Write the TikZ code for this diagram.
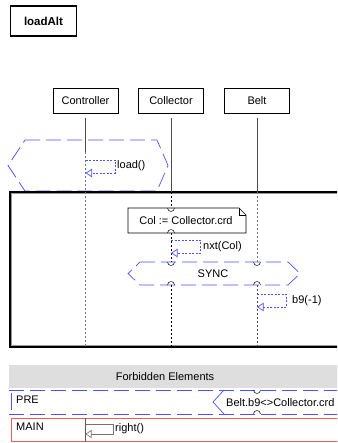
\documentclass[tikz,border=0pt]{standalone}
\usepackage{fontspec}
\setmainfont{Liberation Sans}
\usetikzlibrary{arrows.meta}
\definecolor{condblue}{RGB}{80,80,255}
\definecolor{mainred}{RGB}{245,90,90}
\definecolor{bandgray}{RGB}{222,222,222}
\begin{document}
\begin{tikzpicture}[x=1pt,y=-1pt,
  font=\fontsize{11}{13}\selectfont,
  headbox/.style={draw, line width=0.6pt, minimum width=65pt, minimum height=25pt, inner sep=0pt},
  condline/.style={draw=condblue, line width=0.7pt, dash pattern=on 15pt off 6pt},
  selfmsg/.style={draw=condblue, line width=0.7pt, dash pattern=on 2pt off 1.5pt,
    -{Triangle[open, length=6.5pt, width=8.5pt]}},
  solidlife/.style={draw=black!70, line width=0.8pt},
  dotlife/.style={line width=0.8pt, dash pattern=on 2pt off 2pt},
  lbl/.style={anchor=west, inner sep=0pt},
  gapcup/.pic={\draw[black, line width=0.5pt] (-3.5,0) .. controls (-3.5,4.6) and (3.5,4.6) .. (3.5,0);},
  gapcap/.pic={\draw[black, line width=0.5pt] (-3.5,0) .. controls (-3.5,-4.6) and (3.5,-4.6) .. (3.5,0);}
]
\useasboundingbox (0,0) rectangle (337,443);
\clip (0,0) rectangle (337,443);

% chart title
\node[draw, line width=1.6pt, minimum width=66pt, minimum height=30pt, inner sep=0pt,
      font=\fontsize{11.5}{13}\selectfont\bfseries] (title) at (43.5,21) {loadAlt};

% instance heads
\node[headbox] (ctrl) at (85.5,100.5) {Controller};
\node[headbox] (coll) at (171,100.5) {Collector};
\node[headbox] (belt) at (257,100.5) {Belt};

% alt condition (hexagon) above the main frame
\draw[condline] (25,140) -- (157,140) -- (168,165.5) -- (157,191) -- (25,191) -- (8,165.5) -- cycle;

% main frame
\draw[black!40, line width=0.6pt] (11.3,193.3) rectangle (345,345.7);
\draw[black, line width=1.8pt] (10,192) rectangle (345,347);

% lifeline anchor points
\coordinate (ctrl-a) at (85.5,118);
\coordinate (ctrl-b) at (85.5,152);
\coordinate (ctrl-c) at (85.5,345);
\coordinate (coll-a) at (171,118);
\coordinate (coll-b) at (171,192);
\coordinate (belt-a) at (257,118);
\coordinate (belt-b) at (257,192);

\draw[solidlife] (ctrl-a) -- (ctrl-b);
\draw[dotlife, black!55] (ctrl-b) -- (ctrl-c);
\draw[solidlife] (coll-a) -- (coll-b);
\draw[solidlife] (belt-a) -- (belt-b);

% load() self message
\coordinate (ld1) at (85.5,160);
\coordinate (ld2) at (115,160);
\coordinate (ld3) at (115,173);
\coordinate (ld4) at (85.5,173);
\draw[selfmsg] (ld1) -- (ld2) -- (ld3) -- (ld4);
\node[lbl] (ldlbl) at (117,166) {load()};

% assignment note
\draw[line width=0.6pt, fill=white] (128,208) -- (239,208) -- (246,215) -- (246,233) -- (128,233) -- cycle;
\draw[line width=0.6pt] (239,208) -- (239,215) -- (246,215);
\node (note) at (186,220.5) {Col := Collector.crd};
\coordinate (note-top) at (171,208);
\coordinate (note-bot) at (171,233);
\draw[dotlife, black] (coll-b) -- (note-top);
\pic at (note-top) {gapcup};
\pic at (note-bot) {gapcap};

% SYNC condition
\draw[condline] (140,262) -- (288,262) -- (300,273.5) -- (288,285) -- (140,285) -- (128,273.5) -- cycle;
\node (sync) at (213,273.5) {SYNC};
\coordinate (sync-c1) at (171,262);
\coordinate (sync-c2) at (171,285);
\coordinate (sync-b1) at (257,262);
\coordinate (sync-b2) at (257,285);
\pic at (sync-c1) {gapcup};
\pic at (sync-c2) {gapcap};
\pic at (sync-b1) {gapcup};
\pic at (sync-b2) {gapcap};

\draw[dotlife, black] (note-bot) -- (sync-c1);
\draw[dotlife, black!55] (belt-b) -- (sync-b1);
\coordinate (coll-end) at (171,346);
\coordinate (belt-end) at (257,346);
\draw[dotlife, black] (sync-c2) -- (coll-end);
\draw[dotlife, black!70] (sync-b2) -- (belt-end);

% nxt(Col) self message
\coordinate (nx1) at (171,240);
\coordinate (nx2) at (200.5,240);
\coordinate (nx3) at (200.5,253);
\coordinate (nx4) at (171,253);
\draw[selfmsg] (nx1) -- (nx2) -- (nx3) -- (nx4);
\node[lbl] (nxlbl) at (203,247) {nxt(Col)};

% b9(-1) self message
\coordinate (b91) at (257,294);
\coordinate (b92) at (286,294);
\coordinate (b93) at (286,307);
\coordinate (b94) at (257,307);
\draw[selfmsg] (b91) -- (b92) -- (b93) -- (b94);
\node[lbl] (b9lbl) at (292,301) {b9(-1)};

% forbidden elements band
\fill[bandgray] (9,365) rectangle (345,388);
\node (forb) at (165,377) {Forbidden Elements};

% PRE row
\draw[condline] (9,390) -- (345,390);
\draw[condline] (9,414) -- (345,414);
\draw[condblue, line width=1pt] (11,393) -- (11,410);
\node[lbl] (pre) at (16,400) {PRE};
\draw[condblue, line width=0.7pt] (224,390) -- (213,402) -- (224,414);
\node[lbl] (precond) at (226,402.5) {Belt.b9<>Collector.crd};
\pic at (257,390) {gapcup};
\pic at (257,414) {gapcap};

% MAIN row
\draw[mainred, line width=0.9pt] (11,418) rectangle (345,441);
\node[lbl] (mainlbl) at (16,427) {MAIN};
\coordinate (mn-a) at (85.5,418);
\coordinate (mn-b) at (85.5,441);
\draw[black!65, line width=0.8pt] (mn-a) -- (mn-b);
\coordinate (rt1) at (85.5,424);
\coordinate (rt2) at (113,424);
\coordinate (rt3) at (113,434);
\coordinate (rt4) at (85.5,434);
\draw[black!55, line width=0.6pt, -{Triangle[open, length=6pt, width=8pt]}]
  (rt1) -- (rt2) -- (rt3) -- (rt4);
\node[lbl] (rtlbl) at (115,429) {right()};
\end{tikzpicture}
\end{document}
